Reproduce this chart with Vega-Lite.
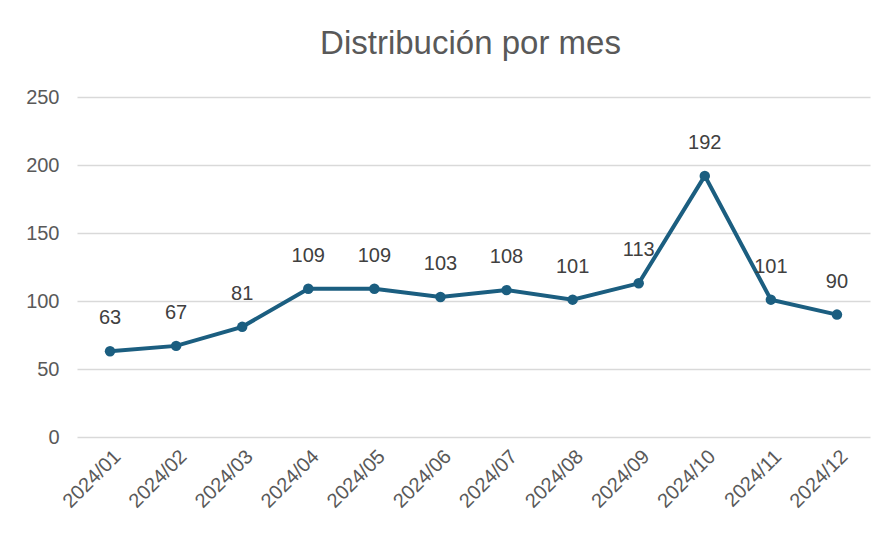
{
  "$schema": "https://vega.github.io/schema/vega-lite/v6.json",
  "autosize": "none",
  "width": 793,
  "height": 340,
  "padding": {"left": 77, "top": 97, "right": 14, "bottom": 99},
  "background": "white",
  "title": {
    "text": "Distribución por mes",
    "anchor": "middle",
    "frame": "group",
    "font": "Liberation Sans",
    "fontSize": 33,
    "fontWeight": "normal",
    "color": "#595959",
    "offset": 26,
    "dx": -3
  },
  "config": {
    "view": {"stroke": null},
    "font": "Liberation Sans"
  },
  "data": {
    "values": [
      {"mes": "2024/01", "valor": 63},
      {"mes": "2024/02", "valor": 67},
      {"mes": "2024/03", "valor": 81},
      {"mes": "2024/04", "valor": 109},
      {"mes": "2024/05", "valor": 109},
      {"mes": "2024/06", "valor": 103},
      {"mes": "2024/07", "valor": 108},
      {"mes": "2024/08", "valor": 101},
      {"mes": "2024/09", "valor": 113},
      {"mes": "2024/10", "valor": 192},
      {"mes": "2024/11", "valor": 101},
      {"mes": "2024/12", "valor": 90}
    ]
  },
  "encoding": {
    "x": {
      "field": "mes",
      "type": "ordinal",
      "scale": {"type": "point", "padding": 0.5},
      "axis": {
        "title": null,
        "labelAngle": -45,
        "labelFontSize": 20,
        "labelColor": "#595959",
        "labelFont": "Liberation Sans",
        "domain": false,
        "ticks": false,
        "labelPadding": 9,
        "grid": false
      }
    },
    "y": {
      "field": "valor",
      "type": "quantitative",
      "scale": {"domain": [0, 250]},
      "axis": {
        "title": null,
        "values": [0, 50, 100, 150, 200, 250],
        "labelFontSize": 20,
        "labelColor": "#595959",
        "labelFont": "Liberation Sans",
        "labelPadding": 18,
        "domain": false,
        "ticks": false,
        "grid": true,
        "gridColor": "#D9D9D9",
        "gridWidth": 1.3
      }
    }
  },
  "layer": [
    {
      "mark": {"type": "line", "color": "#1B5E80", "strokeWidth": 4}
    },
    {
      "mark": {"type": "point", "filled": true, "color": "#1B5E80", "size": 110, "opacity": 1}
    },
    {
      "mark": {"type": "text", "dy": -33, "fontSize": 20, "color": "#404040", "font": "Liberation Sans", "baseline": "middle"},
      "encoding": {"text": {"field": "valor", "type": "quantitative"}}
    }
  ]
}
